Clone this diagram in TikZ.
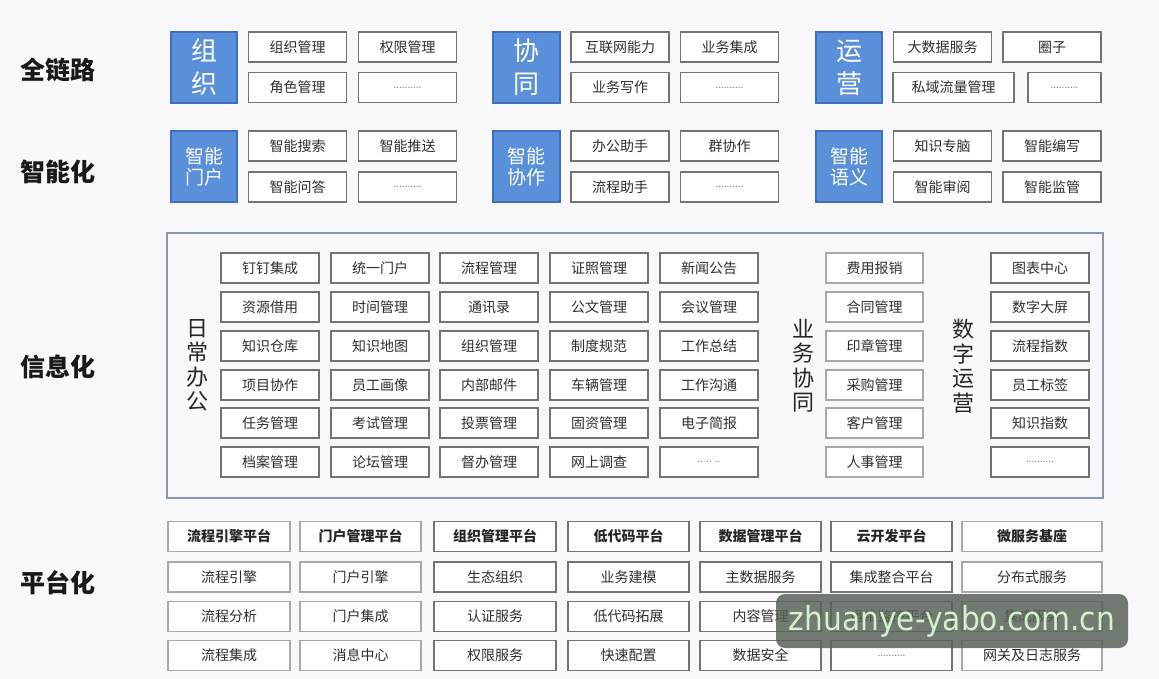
\documentclass[tikz,border=0pt]{standalone}
\usepackage{fontspec}
\setmainfont{Noto Sans CJK SC}
\newfontfamily\wmfont{DejaVu Sans}
\definecolor{bg}{HTML}{F8F8FA}
\definecolor{bluefill}{HTML}{5A8FDA}
\definecolor{blueline}{HTML}{3F6FBF}
\definecolor{boxline}{HTML}{737373}
\definecolor{lightline}{HTML}{A8A8A8}
\definecolor{txt}{HTML}{2E2E2E}
\definecolor{framecol}{HTML}{8A97A8}
\definecolor{wmfill}{HTML}{596059}
\definecolor{wmtext}{HTML}{D2F2CC}
\begin{document}
\begin{tikzpicture}[x=1pt,y=-1pt,
 cell/.style={draw=boxline, line width=1.4pt, fill=white, minimum height=30pt, minimum width=98pt, inner sep=0pt, text=txt, font=\fontsize{14}{16}\selectfont},
 lcell/.style={cell, draw=lightline},
 hcell/.style={font=\fontsize{14}{16}\selectfont\bfseries, text=black!85},
 dots/.style={font=\fontsize{10}{12}\selectfont, text=gray},
 bluebig/.style={draw=blueline, line width=1.2pt, fill=bluefill, text=white, minimum width=66pt, minimum height=71pt, inner sep=0pt, align=center, font=\fontsize{26}{33}\selectfont},
 bluesmall/.style={bluebig, font=\fontsize{19}{21}\selectfont},
 rowlabel/.style={font=\fontsize{25}{28}\selectfont\bfseries, text=black!90},
 vlabel/.style={align=center, font=\fontsize{22}{24.5}\selectfont, text=black!85, inner sep=0pt}
]
\fill[bg] (0,0) rectangle (1159,679);
\useasboundingbox (0,0) rectangle (1159,679);

% row labels
\node[rowlabel] (l1) at (58,70) {全链路};
\node[rowlabel] (l2) at (58,172) {智能化};
\node[rowlabel] (l3) at (58,367) {信息化};
\node[rowlabel] (l4) at (58,583) {平台化};

% ---- tier 1 ----
\node[bluebig] (g1) at (204,67.5) {组\\织};
\node[cell] (g1a) at (297.5,47) {组织管理};
\node[cell] (g1b) at (407.5,47) {权限管理};
\node[cell] (g1c) at (297.5,87.5) {角色管理};
\node[cell,dots] (g1d) at (407.5,87.5) {..........};

\node[bluebig,minimum width=67pt] (g2) at (526.5,67.5) {协\\同};
\node[cell] (g2a) at (620,47) {互联网能力};
\node[cell] (g2b) at (729.5,47) {业务集成};
\node[cell] (g2c) at (620,87.5) {业务写作};
\node[cell,dots] (g2d) at (729.5,87.5) {..........};

\node[bluebig] (g3) at (849,67.5) {运\\营};
\node[cell] (g3a) at (942.5,47) {大数据服务};
\node[cell] (g3b) at (1052,47) {圈子};
\node[cell,minimum width=121pt] (g3c) at (953.5,87.5) {私域流量管理};
\node[cell,dots,minimum width=73pt] (g3d) at (1064.5,87.5) {..........};

% ---- tier 2 ----
\node[bluesmall] (h1) at (204,166.5) {智能\\门户};
\node[cell] (h1a) at (297.5,146) {智能搜索};
\node[cell] (h1b) at (407.5,146) {智能推送};
\node[cell] (h1c) at (297.5,187) {智能问答};
\node[cell,dots] (h1d) at (407.5,187) {..........};

\node[bluesmall,minimum width=67pt] (h2) at (526.5,166.5) {智能\\协作};
\node[cell] (h2a) at (620,146) {办公助手};
\node[cell] (h2b) at (729.5,146) {群协作};
\node[cell] (h2c) at (620,187) {流程助手};
\node[cell,dots] (h2d) at (729.5,187) {..........};

\node[bluesmall] (h3) at (849,166.5) {智能\\语义};
\node[cell] (h3a) at (942.5,146) {知识专脑};
\node[cell] (h3b) at (1052,146) {智能编写};
\node[cell] (h3c) at (942.5,187) {智能审阅};
\node[cell] (h3d) at (1052,187) {智能监管};

% ---- tier 3 ----
\node[draw=framecol, line width=1.8pt, minimum width=936pt, minimum height=265pt, inner sep=0pt] (frame) at (635,365.5) {};
\node[vlabel] (v1) at (197,365.5) {日\\常\\办\\公};
\node[vlabel] (v2) at (803,366) {业\\务\\协\\同};
\node[vlabel] (v3) at (963,366) {数\\字\\运\\营};

\foreach \r/\y/\a/\b/\c/\d/\e in {
 1/268/钉钉集成/统一门户/流程管理/证照管理/新闻公告,
 2/307/资源借用/时间管理/通讯录/公文管理/会议管理,
 3/346/知识仓库/知识地图/组织管理/制度规范/工作总结,
 4/385/项目协作/员工画像/内部邮件/车辆管理/工作沟通,
 5/423/任务管理/考试管理/投票管理/固资管理/电子简报}{
 \node[cell] (d\r-1) at (270,\y) {\a};
 \node[cell] (d\r-2) at (380,\y) {\b};
 \node[cell] (d\r-3) at (489,\y) {\c};
 \node[cell] (d\r-4) at (599,\y) {\d};
 \node[cell] (d\r-5) at (709,\y) {\e};
}
\node[cell] (d6-1) at (270,462) {档案管理};
\node[cell] (d6-2) at (380,462) {论坛管理};
\node[cell] (d6-3) at (489,462) {督办管理};
\node[cell] (d6-4) at (599,462) {网上调查};
\node[cell,dots] (d6-5) at (709,462) {.. .. ..};

\foreach \r/\y/\t in {1/268/费用报销,2/307/合同管理,3/346/印章管理,4/385/采购管理,5/423/客户管理,6/462/人事管理}{
 \node[lcell,minimum width=97pt] (b\r) at (874.5,\y) {\t};
}
\foreach \r/\y/\t in {1/268/图表中心,2/307/数字大屏,3/346/流程指数,4/385/员工标签,5/423/知识指数}{
 \node[cell] (s\r) at (1040,\y) {\t};
}
\node[cell,dots] (s6) at (1040,462) {..........};

% ---- tier 4 ----
\foreach \c/\x/\w/\t in {1/229/122/流程引擎平台,2/360.5/121/门户管理平台,7/1032/140/微服务基座}{
 \node[lcell,hcell,minimum width=\w pt] (p1-\c) at (\x,536.5) {\t};
}
\foreach \c/\x/\w/\t in {3/495/122/组织管理平台,4/628.5/121/低代码平台,5/760.5/121/数据管理平台,6/891.5/121/云开发平台}{
 \node[cell,hcell,minimum width=\w pt] (p1-\c) at (\x,536.5) {\t};
}
\foreach \r/\y/\a/\b/\g in {2/577/流程引擎/门户引擎/分布式服务,3/616.5/流程分析/门户集成/集成服务,4/655.5/流程集成/消息中心/网关及日志服务}{
 \node[lcell,minimum width=122pt] (p\r-1) at (229,\y) {\a};
 \node[lcell,minimum width=121pt] (p\r-2) at (360.5,\y) {\b};
 \node[lcell,minimum width=140pt] (p\r-7) at (1032,\y) {\g};
}
\foreach \r/\y/\c/\d/\e/\f in {2/577/生态组织/业务建模/主数据服务/集成整合平台,3/616.5/认证服务/低代码拓展/内容管理/运维监控平台}{
 \node[cell,minimum width=122pt] (p\r-3) at (495,\y) {\c};
 \node[cell,minimum width=121pt] (p\r-4) at (628.5,\y) {\d};
 \node[cell,minimum width=121pt] (p\r-5) at (760.5,\y) {\e};
 \node[cell,minimum width=121pt] (p\r-6) at (891.5,\y) {\f};
}
\node[cell,minimum width=122pt] (p4-3) at (495,655.5) {权限服务};
\node[cell,minimum width=121pt] (p4-4) at (628.5,655.5) {快速配置};
\node[cell,minimum width=121pt] (p4-5) at (760.5,655.5) {数据安全};
\node[cell,dots,minimum width=121pt] (p4-6) at (891.5,655.5) {..........};

% ---- watermark ----
\node[fill=wmfill, fill opacity=0.84, text opacity=1, rounded corners=9pt, minimum width=352pt, minimum height=54pt, inner sep=0pt, text=wmtext, font=\wmfont\fontsize{33}{36}\selectfont] (wm) at (952,621) {\scalebox{0.9}[1]{zhuanye-yabo.com.cn}};
\end{tikzpicture}
\end{document}
